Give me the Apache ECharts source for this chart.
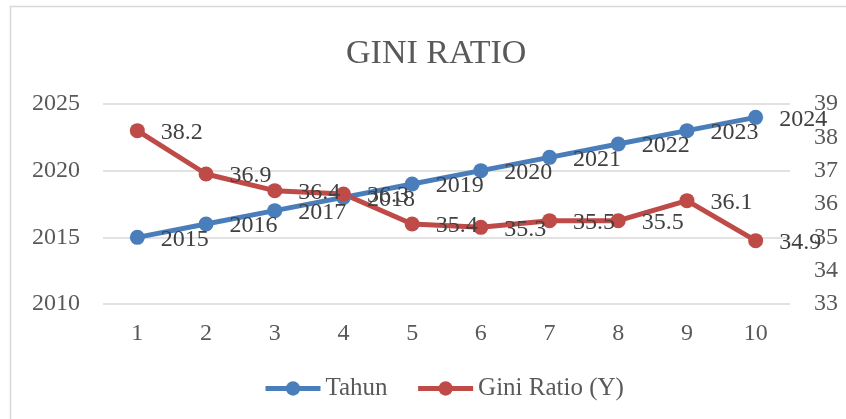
<!DOCTYPE html>
<html><head><meta charset="utf-8">
<script src="https://cdn.jsdelivr.net/npm/echarts@6/dist/echarts.min.js"></script>
<style>html,body{margin:0;padding:0;background:#fff}#c{width:846px;height:419px}</style>
</head><body><div id="c"></div>
<script>
var categories = ['1','2','3','4','5','6','7','8','9','10'];
var tahun = [2015,2016,2017,2018,2019,2020,2021,2022,2023,2024];
var gini = [38.2,36.9,36.4,36.3,35.4,35.3,35.5,35.5,36.1,34.9];
var FONT = 'Liberation Serif';
var TXT = '#595959';
var chart = echarts.init(document.getElementById('c'));
chart.setOption({
  animation:false,
  textStyle:{fontFamily:FONT,color:TXT},
  graphic:[{type:'rect',shape:{x:10.5,y:6.5,width:850,height:430},style:{fill:'none',stroke:'#d9d9d9',lineWidth:1.5}}],
  title:{text:'GINI RATIO',left:341,top:32,textStyle:{fontFamily:FONT,fontSize:34,fontWeight:'normal',color:TXT}},
  legend:{bottom:13,left:258,itemWidth:55,itemHeight:18,itemGap:28,
    lineStyle:{width:5},
    textStyle:{fontFamily:FONT,fontSize:25,color:TXT},
    data:['Tahun','Gini Ratio (Y)']},
  grid:{left:103,right:56,top:104,bottom:115},
  xAxis:{type:'category',data:categories,boundaryGap:true,
    axisLine:{show:false},axisTick:{show:false},
    axisLabel:{fontFamily:FONT,fontSize:24,color:TXT,margin:18}},
  yAxis:[
    {type:'value',min:2010,max:2025,interval:5,position:'left',
     axisLabel:{fontFamily:FONT,fontSize:24,color:TXT,margin:23,formatter:function(v){return String(v);}},
     splitLine:{lineStyle:{color:'#d9d9d9',width:1.5}},axisLine:{show:false},axisTick:{show:false}},
    {type:'value',min:33,max:39,interval:1,position:'right',
     axisLabel:{fontFamily:FONT,fontSize:24,color:TXT,margin:24},
     splitLine:{show:false},axisLine:{show:false},axisTick:{show:false}}
  ],
  series:[
    {name:'Tahun',type:'line',data:tahun,yAxisIndex:0,color:'#4A7EBB',
     symbol:'circle',symbolSize:15,lineStyle:{width:5},
     label:{show:true,position:'right',distance:16,offset:[0,2],fontFamily:FONT,fontSize:24,color:'#404040'}},
    {name:'Gini Ratio (Y)',type:'line',data:gini,yAxisIndex:1,color:'#BE4B48',
     symbol:'circle',symbolSize:15,lineStyle:{width:5},
     label:{show:true,position:'right',distance:16,offset:[0,2],fontFamily:FONT,fontSize:24,color:'#404040'}}
  ]
});
</script></body></html>
